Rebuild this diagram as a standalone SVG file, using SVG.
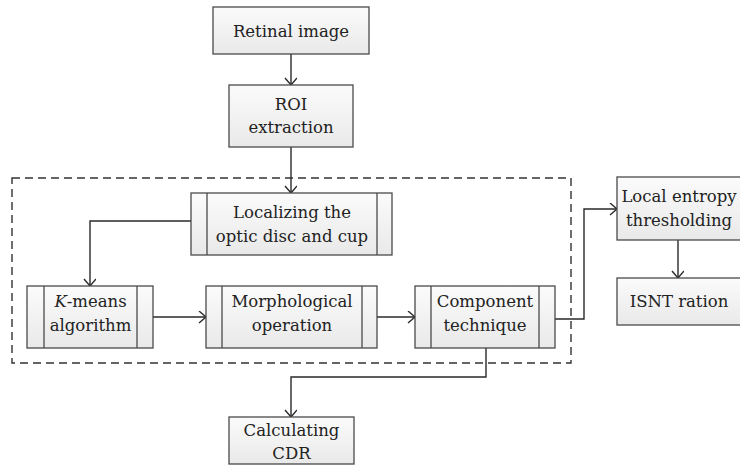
<svg xmlns="http://www.w3.org/2000/svg" width="740" height="466" viewBox="0 0 740 466">
<style>
.box{fill:url(#g);stroke:#4a4a4a;stroke-width:1.3}
.bar{stroke:#4a4a4a;stroke-width:1.3}
.t{font-family:'DejaVu Serif','Liberation Serif',serif;font-size:16.5px;fill:#222;text-anchor:middle}
.c{fill:none;stroke:#2a2a2a;stroke-width:1.4}
</style>
<defs>
<linearGradient id="g" x1="0" y1="0" x2="0" y2="1">
<stop offset="0" stop-color="#fbfbfb"/>
<stop offset="1" stop-color="#e9e9e9"/>
</linearGradient>
<marker id="a" markerWidth="14" markerHeight="14" refX="10" refY="6" orient="auto" markerUnits="userSpaceOnUse">
<path d="M3,0 L10,6 L3,12" fill="none" stroke="#2a2a2a" stroke-width="1.4"/>
</marker>
</defs>
<rect x="12" y="178" width="559" height="185" fill="none" stroke="#333" stroke-width="1.4" stroke-dasharray="8,5"/>
<g id="connectors">
<path class="c" d="M291,54 V85" marker-end="url(#a)"/>
<path class="c" d="M291,147 V193" marker-end="url(#a)"/>
<path class="c" d="M191,221 H90 V286" marker-end="url(#a)"/>
<path class="c" d="M153,317 H206" marker-end="url(#a)"/>
<path class="c" d="M377,317 H415" marker-end="url(#a)"/>
<path class="c" d="M555,319 H584 V209 H617" marker-end="url(#a)"/>
<path class="c" d="M678,240 V278" marker-end="url(#a)"/>
<path class="c" d="M486,348 V377 H291 V417" marker-end="url(#a)"/>
</g>
<g id="retinal">
<rect class="box" x="213" y="7" width="156" height="47"/>
<text class="t" x="291" y="37">Retinal image</text>
</g>
<g id="roi">
<rect class="box" x="229" y="85" width="124" height="62"/>
<text class="t" x="291" y="110">ROI</text>
<text class="t" x="291" y="133">extraction</text>
</g>
<g id="localizing">
<rect class="box" x="191" y="193" width="201" height="62"/>
<line class="bar" x1="207" y1="193" x2="207" y2="255"/>
<line class="bar" x1="377" y1="193" x2="377" y2="255"/>
<text class="t" x="292" y="218">Localizing the</text>
<text class="t" x="292" y="242">optic disc and cup</text>
</g>
<g id="kmeans">
<rect class="box" x="27" y="286" width="126" height="62"/>
<line class="bar" x1="44" y1="286" x2="44" y2="348"/>
<line class="bar" x1="137" y1="286" x2="137" y2="348"/>
<text class="t" x="90.5" y="307"><tspan font-style="italic">K</tspan>-means</text>
<text class="t" x="90.5" y="331">algorithm</text>
</g>
<g id="morph">
<rect class="box" x="206" y="286" width="171" height="62"/>
<line class="bar" x1="222" y1="286" x2="222" y2="348"/>
<line class="bar" x1="362" y1="286" x2="362" y2="348"/>
<text class="t" x="292" y="307">Morphological</text>
<text class="t" x="292" y="331">operation</text>
</g>
<g id="component">
<rect class="box" x="415" y="286" width="140" height="62"/>
<line class="bar" x1="431" y1="286" x2="431" y2="348"/>
<line class="bar" x1="539" y1="286" x2="539" y2="348"/>
<text class="t" x="485" y="307">Component</text>
<text class="t" x="485" y="331">technique</text>
</g>
<g id="entropy">
<rect class="box" x="617" y="177" width="130" height="63"/>
<text class="t" x="679" y="202">Local entropy</text>
<text class="t" x="679" y="226">thresholding</text>
</g>
<g id="isnt">
<rect class="box" x="617" y="278" width="130" height="47"/>
<text class="t" x="679" y="307">ISNT ration</text>
</g>
<g id="cdr">
<rect class="box" x="229" y="417" width="125" height="47"/>
<text class="t" x="291.5" y="436">Calculating</text>
<text class="t" x="291.5" y="459">CDR</text>
</g>
</svg>
